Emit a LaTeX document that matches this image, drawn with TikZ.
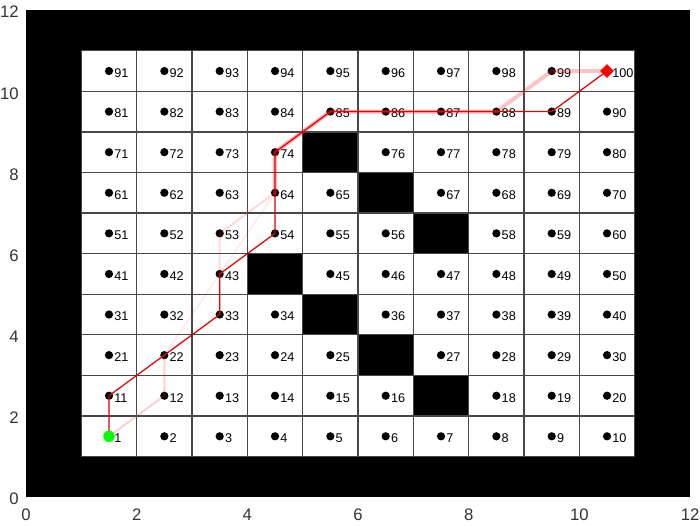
\documentclass[tikz,border=0pt]{standalone}
\usepackage{fontspec}
\setmainfont{Liberation Sans}
\usetikzlibrary{shapes.geometric}

\begin{document}
\begin{tikzpicture}[x=1.1067cm, y=0.8117cm,
  cellline/.style={draw=black!72, line width=0.7pt},
  wpt/.style={circle, fill=black, inner sep=0pt, minimum size=0.165cm},
  wlabel/.style={anchor=west, inner sep=0pt, font=\fontsize{7.2}{8}\selectfont},
  ticklabel/.style={inner sep=0pt, font=\fontsize{9.5}{11}\selectfont, text=black!80},
  ghost/.style={draw=red!80!pink, line join=round, line cap=round},
  route/.style={draw=red!88!black, line width=0.7pt, line join=round}
]
\useasboundingbox (-0.47,-0.69) rectangle (12.18,12.25);
\fill[black] (0,0) rectangle (12,12);
\fill[white] (1,1) rectangle (11,11);
% obstacles
\foreach \c/\r in {7/2, 6/3, 5/4, 4/5, 7/6, 6/7, 5/8}
  \fill[black] (\c,\r) rectangle ++(1,1);
% grid
\foreach \k in {1,...,11} {
  \draw[cellline] (\k,1) -- (\k,11);
  \draw[cellline] (1,\k) -- (11,\k);
}
% axis numbers
\foreach \v in {0,2,...,12} {
  \node[ticklabel, anchor=north] (xt\v) at ([yshift=-0.23cm]\v,0) {\v};
  \node[ticklabel, anchor=east] (yt\v) at ([xshift=-0.14cm, yshift=-0.04cm]0,\v) {\v};
}
% waypoints
\foreach \n in {1,...,100} {
  \pgfmathtruncatemacro\cx{mod(\n-1,10)}
  \pgfmathtruncatemacro\cy{div(\n-1,10)}
  \coordinate (p\n) at (\cx+1.5,\cy+1.5);
  \gdef\blocked{0}
  \foreach \o in {17,26,35,44,57,66,75} {\ifnum\n=\o\gdef\blocked{1}\fi}
  \ifnum\blocked=0
    \node[wpt] (v\n) at (p\n) {};
    \node[wlabel] (t\n) at ([xshift=0.1cm, yshift=-0.04cm]p\n) {\n};
  \fi
}
% other searched routes
\draw[ghost, line width=1.1pt, opacity=0.22] (p1) -- (p12) -- (p22);
\draw[ghost, line width=0.9pt, opacity=0.1] (p22) -- (p43) -- (p64);
\draw[ghost, line width=1.1pt, opacity=0.18] (p43) -- (p53) -- (p64);
\draw[ghost, line width=2.4pt, opacity=0.35] (p64) -- (p74) -- (p85) -- (p86) -- (p87) -- (p88);
\draw[ghost, line width=2.2pt, opacity=0.28] (p88) -- (p99) -- (p100);
% best route
\draw[route] (p1) -- (p11) -- (p22) -- (p33) -- (p43) -- (p54) -- (p64) -- (p74)
  -- (p85) -- (p86) -- (p87) -- (p88) -- (p89) -- (p100);
\node[circle, fill=green, inner sep=0pt, minimum size=0.23cm] (start) at (p1) {};
\node[diamond, fill=red, inner sep=0pt, minimum size=0.28cm] (goal) at (p100) {};
\end{tikzpicture}
\end{document}
